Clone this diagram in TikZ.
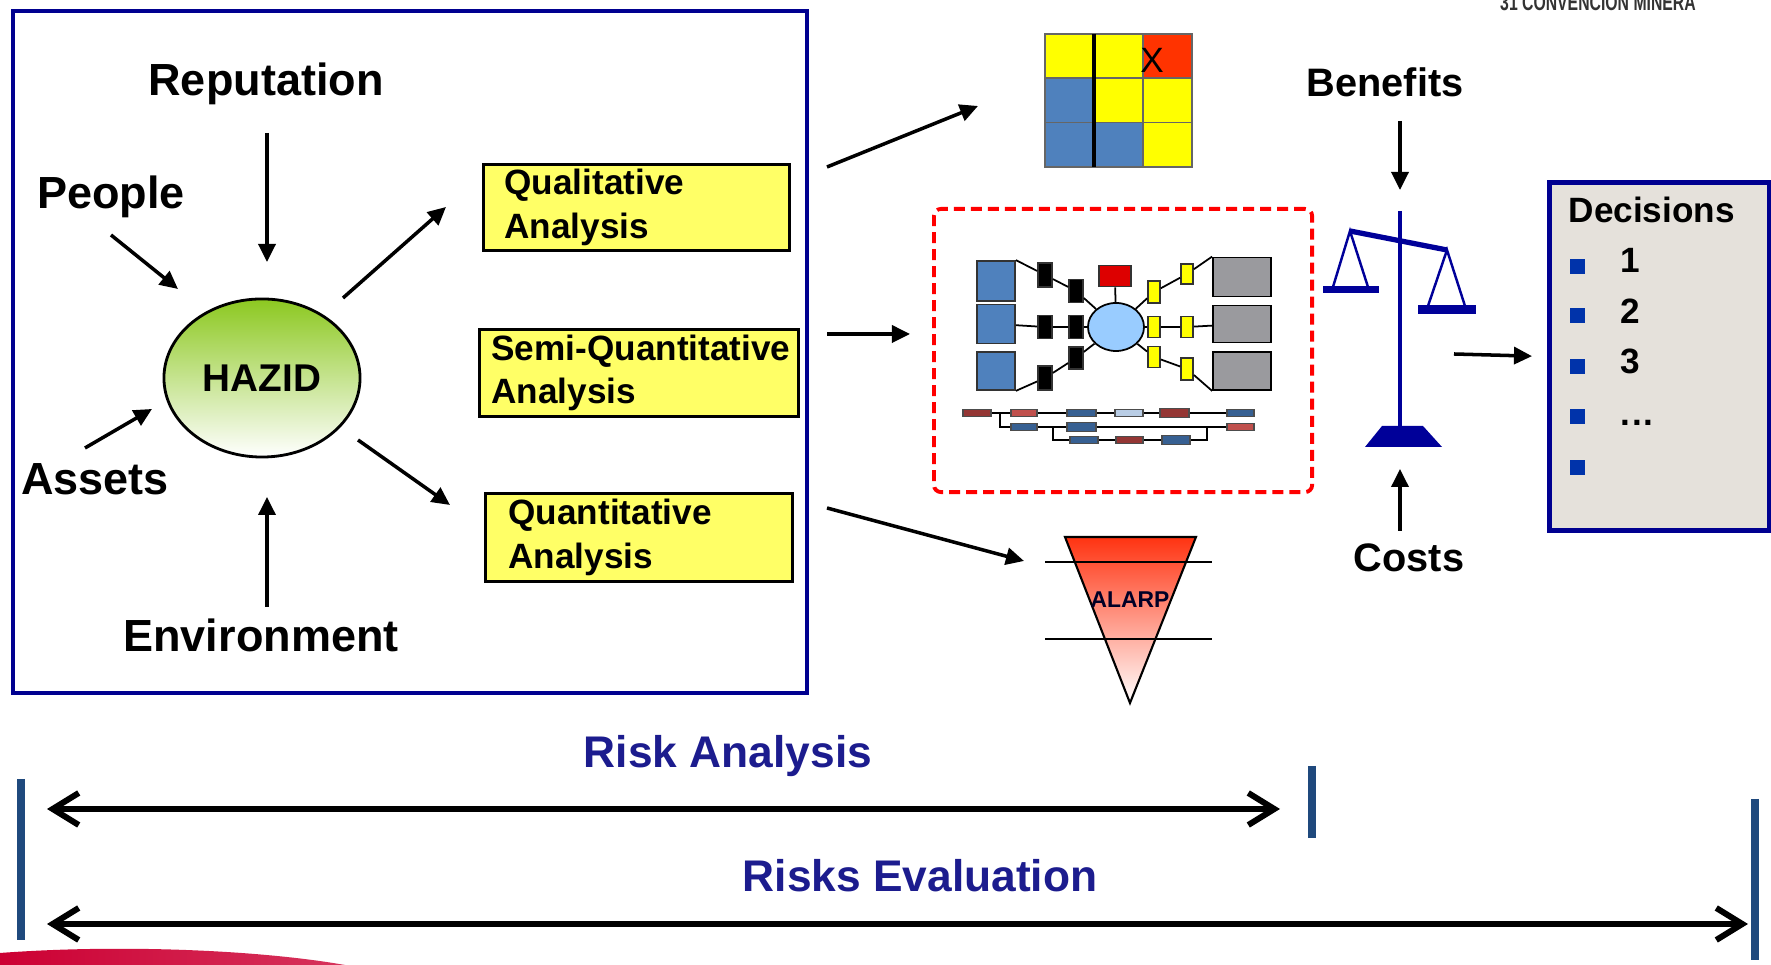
\documentclass[tikz,border=0pt]{standalone}
\usepackage{fontspec}
\setmainfont{Liberation Sans}
\usetikzlibrary{arrows.meta,positioning,calc,shapes.geometric}

\definecolor{framenavy}{HTML}{000090}
\definecolor{textnavy}{HTML}{1C1C8E}
\definecolor{barblue}{HTML}{1F497D}
\definecolor{boxyellow}{HTML}{FFFF66}
\definecolor{cellyellow}{HTML}{FFFF00}
\definecolor{cellblue}{HTML}{4F81BD}
\definecolor{cellred}{HTML}{FF3300}
\definecolor{hazgreen}{HTML}{8CC820}
\definecolor{hubblue}{HTML}{99CCFF}
\definecolor{tiegray}{HTML}{9A9A9E}
\definecolor{topred}{HTML}{DD0000}
\definecolor{pilldred}{HTML}{943634}
\definecolor{pillred}{HTML}{C0504D}
\definecolor{pillblue}{HTML}{376092}
\definecolor{pilllight}{HTML}{B9CDE5}
\definecolor{alarpred}{HTML}{FF3311}
\definecolor{scaleblue}{HTML}{000099}
\definecolor{decfill}{HTML}{E5E1DB}
\definecolor{bulletblue}{HTML}{0033AA}
\definecolor{swoosh}{HTML}{CC0033}

\tikzset{
  factor/.style={font=\fontsize{12.8}{15}\selectfont\bfseries, inner sep=0pt, anchor=base},
  sidelabel/.style={font=\fontsize{11.3}{14}\selectfont\bfseries, inner sep=0pt, anchor=base},
  anabox/.style={rectangle, draw=black, line width=0.8pt, fill=boxyellow,
    font=\fontsize{10}{12.3}\selectfont\bfseries, align=left, anchor=north west, inner ysep=0pt},
  tiebox/.style={rectangle, draw=black!80, line width=0.5pt, inner sep=0pt},
  optlabel/.style={font=\fontsize{10}{12}\selectfont\bfseries, anchor=base west, inner sep=0pt},
  arr/.style={-{Triangle[length=1.8mm,width=1.7mm]}, line width=1pt},
  spanarrow/.style={{Straight Barb[length=2.6mm,width=3.2mm]}-{Straight Barb[length=2.6mm,width=3.2mm]}, line width=1.7pt},
  spanlabel/.style={font=\fontsize{12.6}{15}\selectfont\bfseries, text=textnavy, inner sep=0pt, anchor=base},
  endbar/.style={draw=barblue, line width=2pt},
}

\begin{document}
\begin{tikzpicture}[x=0.01cm, y=-0.01cm]
\useasboundingbox (0,0) rectangle (1771,965);

% ---------- logo scraps ----------
\node[anchor=base, inner sep=0pt, text=black!80, font=\fontsize{6.6}{7}\selectfont\bfseries] (logo)
  at (1598,11) {\scalebox{0.68}[1]{31 CONVENCIÓN MINERA}};
\shade[left color=swoosh, right color=swoosh!80!white]
  (0,965) -- (0,953) .. controls (120,944) and (260,950) .. (345,965) -- cycle;

% ---------- hazard identification frame ----------
\node[draw=framenavy, line width=1.1pt, minimum width=7.94cm, minimum height=6.82cm,
  anchor=north west, inner sep=0pt] (frame) at (11,9) {};

\node[factor] (rep) at (266,96) {Reputation};
\node[factor] (people) at (111,209) {People};
\node[factor] (assets) at (95,495) {Assets};
\node[factor] (env) at (261,652) {Environment};

\node[ellipse, draw=black, line width=0.8pt, top color=hazgreen, bottom color=white,
  minimum width=1.96cm, minimum height=1.58cm, inner sep=0pt,
  font=\fontsize{11}{13}\selectfont\bfseries] (hazid) at (262,378) {HAZID};

\node[anabox, text width=2.64cm, inner xsep=0.21cm, minimum height=0.86cm] (qual) at (482,163)
  {Qualitative\\Analysis};
\node[anabox, text width=2.95cm, inner xsep=0.12cm, minimum height=0.87cm] (semi) at (478,328)
  {\mbox{Semi-Quantitative}\\Analysis};
\node[anabox, text width=2.61cm, inner xsep=0.23cm, minimum height=0.88cm] (quan) at (484,492)
  {Quantitative\\Analysis};

% arrow ends
\coordinate (rep-a) at (267,133);  \coordinate (rep-b) at (267,262);
\coordinate (peo-a) at (111,235);  \coordinate (peo-b) at (178,289);
\coordinate (ass-a) at (85,448);   \coordinate (ass-b) at (152,409);
\coordinate (env-a) at (267,607);  \coordinate (env-b) at (267,497);
\coordinate (qua-a) at (343,298);  \coordinate (qua-b) at (446,207);
\coordinate (qnt-a) at (358,440);  \coordinate (qnt-b) at (450,505);

\draw[arr] (rep-a) -- (rep-b);
\draw[arr] (peo-a) -- (peo-b);
\draw[arr] (ass-a) -- (ass-b);
\draw[arr] (env-a) -- (env-b);
\draw[arr] (qua-a) -- (qua-b);
\draw[arr] (qnt-a) -- (qnt-b);

% ---------- risk matrix ----------
\foreach \r/\cols in {0/{cellyellow,cellyellow,cellred},1/{cellblue,cellyellow,cellyellow},2/{cellblue,cellblue,cellyellow}}{
  \foreach \col [count=\c from 0] in \cols
    \filldraw[fill=\col, draw=black!60, line width=0.5pt] ({1045+49*\c},{34+44.3*\r}) rectangle ++(49,44.3);
}
\draw[line width=1.2pt] (1094,34) -- (1094,167);
\node[font=\fontsize{10}{12}\selectfont, inner sep=0pt] (xmark) at (1152,60) {X};

% ---------- bow-tie ----------
\node[draw=red, dashed, dash pattern=on 1.1mm off 0.6mm, line width=1.1pt, rounded corners=2pt,
  minimum width=3.78cm, minimum height=2.83cm, anchor=north west, inner sep=0pt] (riskbox) at (932,207) {};

\node[tiebox, fill=cellblue, minimum width=3.8mm, minimum height=4.0mm] (bl1) at (996,281) {};
\node[tiebox, fill=cellblue, minimum width=3.8mm, minimum height=3.9mm] (bl2) at (996,324) {};
\node[tiebox, fill=cellblue, minimum width=3.8mm, minimum height=3.8mm] (bl3) at (996,371) {};
\node[tiebox, fill=tiegray, draw=black, minimum width=5.8mm, minimum height=3.9mm] (g1) at (1242,277) {};
\node[tiebox, fill=tiegray, draw=black, minimum width=5.8mm, minimum height=3.7mm] (g2) at (1242,324) {};
\node[tiebox, fill=tiegray, draw=black, minimum width=5.8mm, minimum height=3.8mm] (g3) at (1242,371) {};
\node[ellipse, draw=black, line width=0.5pt, fill=hubblue, minimum width=5.6mm, minimum height=4.8mm,
  inner sep=0pt] (hub) at (1116,327) {};
\node[tiebox, fill=topred, minimum width=3.2mm, minimum height=2.1mm] (top) at (1115,276) {};

\foreach \n/\x/\y/\h in {k11/1045/275/2.4, k12/1076/291/2.3, k21/1045/327/2.3,
                         k22/1076/327/2.3, k31/1045/378/2.4, k32/1076/358/2.2}
  \node[tiebox, fill=black, minimum width=1.4mm, minimum height=\h mm] (\n) at (\x,\y) {};
\foreach \n/\x/\y/\h in {y11/1154/292/2.2, y12/1187/274/2.0, y21/1154/327/2.1,
                         y22/1187/327/2.1, y31/1154/357/2.1, y32/1187/369/2.2}
  \node[tiebox, fill=cellyellow, minimum width=1.2mm, minimum height=\h mm] (\n) at (\x,\y) {};

\draw[line width=0.5pt] (bl1.north east) -- (k11) -- (k12) -- (hub);
\draw[line width=0.5pt] (bl2) -- (k21) -- (k22) -- (hub);
\draw[line width=0.5pt] (bl3.south east) -- (k31) -- (k32) -- (hub);
\draw[line width=0.5pt] (hub) -- (y11) -- (y12) -- (g1.north west);
\draw[line width=0.5pt] (hub) -- (y21) -- (y22) -- (g2);
\draw[line width=0.5pt] (hub) -- (y31) -- (y32) -- (g3.south west);
\draw[line width=0.5pt] (top) -- (hub);

% event tree under the bow-tie
\draw[line width=0.4pt] (963,413) -- (1254,413);
\draw[line width=0.4pt] (1000,413) |- (1227,427);
\draw[line width=0.4pt] (1053,427) |- (1207,440) -- (1207,427);
\foreach \xa/\xb/\y/\h/\c in {963/991/413/7/pilldred, 1011/1037/413/7/pillred, 1067/1096/413/7/pillblue,
    1115/1143/413/7/pilllight, 1160/1189/413/9/pilldred, 1227/1254/413/7/pillblue,
    1011/1037/427/7/pillblue, 1067/1096/427/9/pillblue, 1227/1254/427/7/pillred,
    1070/1098/440/7/pillblue, 1116/1143/440/7/pilldred, 1162/1190/440/9/pillblue}
  \filldraw[fill=\c, draw=black!70, line width=0.3pt] (\xa,{\y-\h/2}) rectangle (\xb,{\y+\h/2});

% ---------- ALARP triangle ----------
\shade[top color=alarpred, bottom color=white, draw=black, line width=0.6pt]
  (1065,537) -- (1196,537) -- (1130,703) -- cycle;
\draw[line width=0.6pt] (1045,562) -- (1212,562);
\draw[line width=0.6pt] (1045,639) -- (1212,639);
\node[font=\fontsize{6.5}{8}\selectfont\bfseries, text=black!85!blue, inner sep=0pt] (alarp) at (1130,600) {ALARP};

% arrows out of the frame
\coordinate (mat-a) at (827,167);  \coordinate (mat-b) at (978,106);
\coordinate (mid-a) at (827,334);  \coordinate (mid-b) at (910,334);
\coordinate (alp-a) at (827,508);  \coordinate (alp-b) at (1024,561);
\draw[arr] (mat-a) -- (mat-b);
\draw[arr] (mid-a) -- (mid-b);
\draw[arr] (alp-a) -- (alp-b);

% ---------- balance ----------
\coordinate (poletop) at (1400,211);
\coordinate (polefoot) at (1400,427);
\draw[scaleblue, line width=1.1pt] (poletop) -- (polefoot);
\fill[scaleblue] (1382,426) -- (1423,426) -- (1442,447) -- (1365,447) -- cycle;
\draw[scaleblue, line width=1.5pt] (1350,231) -- (1447,250);
\draw[scaleblue, line width=0.7pt] (1333,287) -- (1350,231) -- (1368,287);
\draw[scaleblue, line width=0.7pt] (1428,306) -- (1447,250) -- (1465,306);
\fill[scaleblue] (1323,286) rectangle (1379,293);
\fill[scaleblue] (1418,305) rectangle (1476,314);

\node[sidelabel] (benefits) at (1385,97) {Benefits};
\node[sidelabel] (costs) at (1409,572) {Costs};
\coordinate (ben-a) at (1400,121);  \coordinate (ben-b) at (1400,190);
\coordinate (cst-a) at (1400,531);  \coordinate (cst-b) at (1400,469);
\draw[arr] (ben-a) -- (ben-b);
\draw[arr] (cst-a) -- (cst-b);

% ---------- decisions ----------
\node[draw=framenavy, line width=1.4pt, fill=decfill, minimum width=2.2cm, minimum height=3.48cm,
  anchor=north west, inner sep=0pt] (decisions) at (1547,180) {};
\node[optlabel] (dechead) at (1568,223) {Decisions};
\foreach \y in {267,316,367,417,468}
  \fill[bulletblue] (1570,{\y-7.5}) rectangle ++(15,15);
\foreach \b/\t [count=\i] in {273/1, 324/2, 374/3}
  \node[optlabel] (opt\i) at (1620,\b) {\t};
\node[optlabel] (opt4) at (1620,426) {.\kern0.5pt.\kern0.5pt.};

\coordinate (dec-a) at (1454,354);
\draw[arr, shorten >=1.5mm] (dec-a) -- (decisions.west);

% ---------- analysis / evaluation spans ----------
\draw[endbar] (21,779) -- (21,940);
\draw[endbar] (1312,766) -- (1312,838);
\draw[endbar] (1755,799) -- (1755,960);

\coordinate (ra-l) at (47,809);   \coordinate (ra-r) at (1280,809);
\coordinate (re-l) at (47,924);   \coordinate (re-r) at (1748,924);
\draw[spanarrow] (ra-l) -- (ra-r);
\draw[spanarrow] (re-l) -- (re-r);

\node[spanlabel] (ralabel) at (728,768) {Risk Analysis};
\node[spanlabel] (relabel) at (920,892) {Risks Evaluation};

\end{tikzpicture}
\end{document}
